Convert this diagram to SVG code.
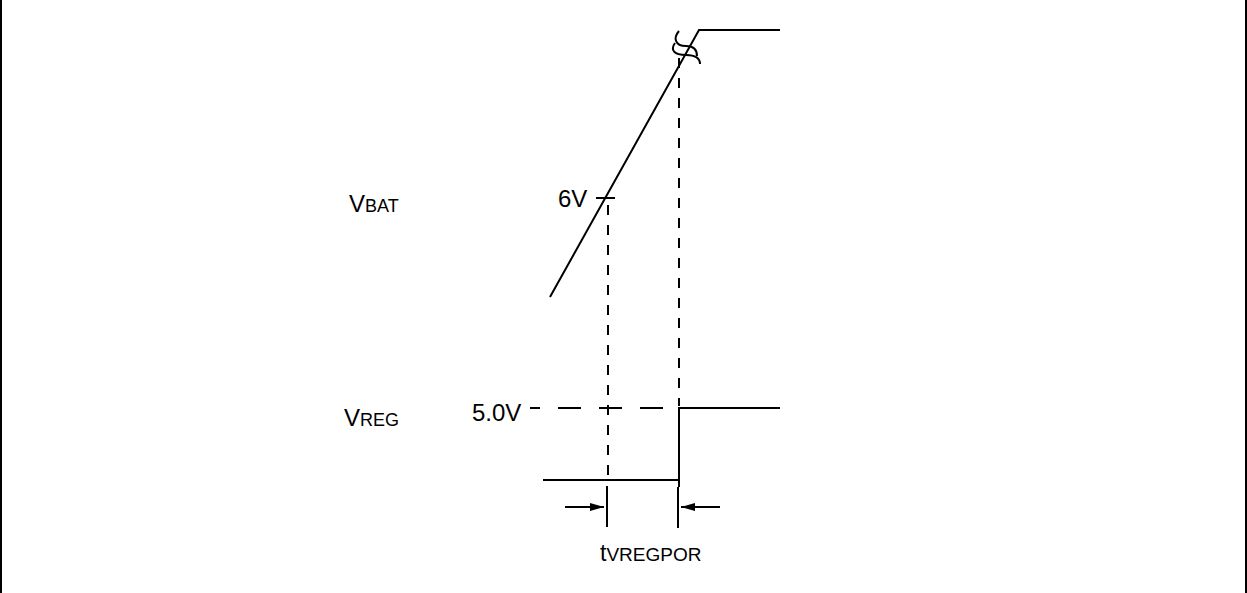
<svg xmlns="http://www.w3.org/2000/svg" width="1247" height="593" viewBox="0 0 1247 593">
<style>
.s{stroke:#000;stroke-width:2;fill:none}
.d{stroke:#000;stroke-width:2;fill:none;stroke-dasharray:10 10}
.t{font-family:"Liberation Sans",Arial,sans-serif;fill:#000}
.b{font-size:24px}
.m{font-size:18px}
</style>
<defs>
<marker id="ah" markerWidth="14" markerHeight="8" refX="14" refY="4" orient="auto" markerUnits="userSpaceOnUse">
<path d="M0,0 L14,4 L0,8 Z" fill="#000"/>
</marker>
</defs>
<rect width="1247" height="593" fill="#fff"/>
<g id="frame">
<line class="s" x1="1" y1="0" x2="1" y2="593"/>
<line class="s" x1="1246" y1="0" x2="1246" y2="593"/>
</g>
<g id="vbat-wave">
<polyline class="s" points="550,297 699,30 780,30"/>
<path class="s" stroke-width="1.5" d="M679,31 C673,38 675,46 686,46 C694,46 697,50 697,56"/>
<path class="s" stroke-width="1.5" d="M675,43 C670,50 674,55 686,55 C696,55 700,58 700,64"/>
<line class="s" x1="596" y1="198" x2="615" y2="198"/>
</g>
<g id="vreg-wave">
<polyline class="s" points="543,480 679,480 679,408 780,408"/>
<line class="s" x1="530" y1="408" x2="679" y2="408" stroke-dasharray="23 18" stroke-dashoffset="13"/>
</g>
<g id="connectors">
<line class="d" x1="608" y1="205" x2="608" y2="485"/>
<line class="d" x1="679" y1="58" x2="679" y2="406"/>
<line class="d" x1="679" y1="480" x2="679" y2="487"/>
<line class="s" x1="607" y1="486" x2="607" y2="527"/>
<line class="s" x1="678" y1="487" x2="678" y2="528"/>
<line class="s" x1="565" y1="507" x2="604" y2="507" marker-end="url(#ah)"/>
<line class="s" x1="720" y1="507" x2="681" y2="507" marker-end="url(#ah)"/>
</g>
<g id="labels">
<text class="t" x="349" y="212"><tspan class="b">V</tspan><tspan class="m">BAT</tspan></text>
<text class="t b" x="558" y="207">6V</text>
<text class="t" x="344" y="426"><tspan class="b">V</tspan><tspan class="m">REG</tspan></text>
<text class="t b" x="472" y="421">5.0V</text>
<text class="t" x="600" y="561"><tspan style="font-size:23px">t</tspan><tspan style="font-size:19px">VREGPOR</tspan></text>
</g>
</svg>
